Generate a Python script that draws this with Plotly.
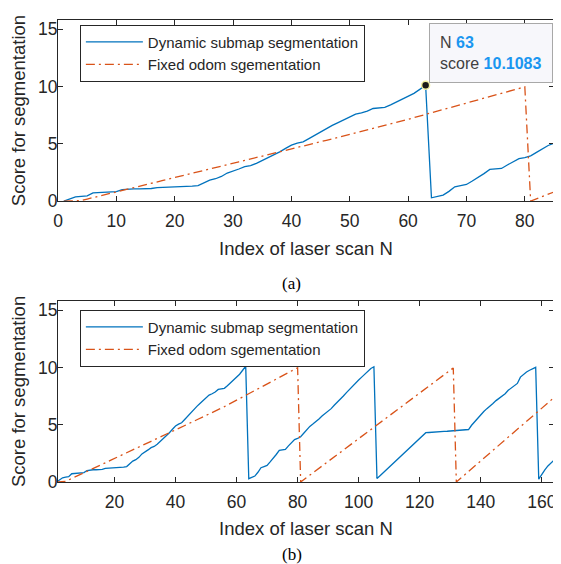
import plotly.graph_objects as go

# ---------------- data ----------------
scan_index = list(range(1, 165))

dynamic_score = [
    0.00, 0.20, 0.37, 0.42, 0.46, 0.72, 0.75, 0.78, 0.80, 0.82,
    1.00, 1.05, 1.07, 1.07, 1.08, 1.10, 1.18, 1.20, 1.20, 1.20,
    1.22, 1.28, 1.30, 1.35, 1.60, 1.82, 1.95, 2.15, 2.45, 2.60,
    2.80, 3.00, 3.10, 3.30, 3.55, 3.75, 4.05, 4.30, 4.60, 4.88,
    5.05, 5.17, 5.45, 5.75, 6.05, 6.35, 6.60, 6.85, 7.10, 7.35,
    7.58, 7.70, 7.85, 8.08, 8.12, 8.17, 8.40, 8.65, 8.90, 9.10,
    9.40, 9.75, 10.1083, 0.29, 0.40, 0.52, 0.85, 1.25, 1.35, 1.45,
    1.75, 2.05, 2.40, 2.76, 2.82, 2.85, 3.15, 3.45, 3.70, 3.80,
    3.95, 4.25, 4.55, 4.85, 5.05, 5.25, 5.50, 5.75, 5.95, 6.15,
    6.40, 6.70, 6.95, 7.25, 7.50, 7.80, 8.10, 8.40, 8.65, 8.90,
    9.15, 9.40, 9.65, 9.90, 10.05, 0.30, 0.55, 0.80, 1.05, 1.30,
    1.55, 1.80, 2.05, 2.30, 2.55, 2.80, 3.05, 3.30, 3.55, 3.80,
    4.05, 4.30, 4.32, 4.35, 4.37, 4.38, 4.40, 4.42, 4.43, 4.45,
    4.46, 4.48, 4.50, 4.52, 4.55, 4.58, 4.95, 5.25, 5.60, 5.90,
    6.15, 6.40, 6.60, 6.85, 7.10, 7.30, 7.50, 7.70, 8.00, 8.20,
    8.40, 8.60, 9.15, 9.40, 9.60, 9.75, 9.90, 10.00, 0.25, 0.70,
    1.05, 1.40, 1.65, 1.90,
]

fixed_score = [
    0.00, 0.00, 0.00, 0.05, 0.18, 0.30, 0.43, 0.55, 0.68, 0.80,
    0.93, 1.05, 1.18, 1.30, 1.43, 1.55, 1.68, 1.80, 1.93, 2.05,
    2.18, 2.30, 2.43, 2.55, 2.68, 2.80, 2.93, 3.05, 3.18, 3.30,
    3.43, 3.55, 3.68, 3.80, 3.93, 4.05, 4.18, 4.30, 4.43, 4.55,
    4.68, 4.80, 4.93, 5.05, 5.18, 5.30, 5.43, 5.55, 5.68, 5.80,
    5.93, 6.05, 6.18, 6.30, 6.43, 6.57, 6.71, 6.85, 6.99, 7.14,
    7.28, 7.42, 7.56, 7.70, 7.85, 7.99, 8.13, 8.27, 8.41, 8.56,
    8.70, 8.84, 8.98, 9.12, 9.27, 9.41, 9.55, 9.69, 9.83, 9.97,
    0.00, 0.20, 0.40, 0.60, 0.80, 1.00, 1.20, 1.40, 1.60, 1.80,
    2.00, 2.20, 2.40, 2.60, 2.80, 3.00, 3.20, 3.40, 3.60, 3.80,
    4.00, 4.20, 4.40, 4.60, 4.80, 5.00, 5.20, 5.40, 5.60, 5.80,
    6.00, 6.20, 6.40, 6.60, 6.80, 7.00, 7.20, 7.40, 7.60, 7.80,
    8.00, 8.20, 8.40, 8.60, 8.80, 9.00, 9.20, 9.40, 9.60, 9.80,
    9.95, 0.00, 0.23, 0.46, 0.69, 0.92, 1.15, 1.38, 1.61, 1.84,
    2.07, 2.30, 2.53, 2.76, 2.99, 3.22, 3.45, 3.68, 3.91, 4.14,
    4.37, 4.60, 4.83, 5.06, 5.29, 5.52, 5.75, 5.98, 6.21, 6.44,
    6.67, 6.90, 7.13, 7.36,
]

series_names = ["Dynamic submap segmentation", "Fixed odom sgementation"]
top_xticks = [0, 10, 20, 30, 40, 50, 60, 70, 80]
bottom_xticks = [20, 40, 60, 80, 100, 120, 140, 160]
yticks = [0, 5, 10, 15]
tip_n = 63
tip_score = 10.1083
captions = ["(a)", "(b)"]

# ---------------- style ----------------
BLUE = "#0072BD"
ORANGE = "#D95319"
INK = "#262626"
FONT = "Liberation Sans, Arial, sans-serif"

fig = go.Figure()

for xa, ya, leg in [("x", "y", "legend"), ("x2", "y2", "legend2")]:
    fig.add_trace(go.Scatter(
        x=scan_index, y=dynamic_score, mode="lines", name=series_names[0],
        line=dict(color=BLUE, width=1.3), xaxis=xa, yaxis=ya, legend=leg,
    ))
    fig.add_trace(go.Scatter(
        x=scan_index, y=fixed_score, mode="lines", name=series_names[1],
        line=dict(color=ORANGE, width=1.3, dash="9px,4px,2px,4px"),
        xaxis=xa, yaxis=ya, legend=leg,
    ))

# data tip marker
fig.add_trace(go.Scatter(
    x=[tip_n], y=[tip_score], mode="markers", showlegend=False,
    marker=dict(color="#1a1a1a", size=8, line=dict(color="#f2f0a0", width=1.5)),
    xaxis="x", yaxis="y",
))

axis_common = dict(
    showline=True, linecolor=INK, linewidth=1, mirror="ticks",
    ticks="inside", ticklen=5, tickcolor=INK, tickwidth=1,
    showgrid=False, zeroline=False,
    tickfont=dict(family=FONT, size=17.5, color=INK),
)
title_font = dict(family=FONT, size=18.5, color=INK)

fig.update_layout(
    width=553, height=556,
    margin=dict(l=50, r=4, t=12, b=82),
    paper_bgcolor="white", plot_bgcolor="white",
    xaxis=dict(domain=[0, 1], range=[0, 85], tickvals=top_xticks, anchor="y",
               ticklabelstandoff=4,
               title=dict(text="Index of laser scan N", font=title_font, standoff=11),
               **axis_common),
    yaxis=dict(domain=[0.608, 1], range=[0, 15.8], tickvals=yticks, anchor="x",
               ticklabelstandoff=-4,
               title=dict(text="Score for segmentation", font=title_font, standoff=8),
               **axis_common),
    xaxis2=dict(domain=[0, 1], range=[1.5, 164], tickvals=bottom_xticks, anchor="y2",
                ticklabelstandoff=4,
                title=dict(text="Index of laser scan N", font=title_font, standoff=11),
                **axis_common),
    yaxis2=dict(domain=[0, 0.392], range=[0, 15.8], tickvals=yticks, anchor="x2",
                ticklabelstandoff=-4,
                title=dict(text="Score for segmentation", font=title_font, standoff=8),
                **axis_common),
    legend=dict(x=0.0441, y=0.99, xanchor="left", yanchor="top",
                bgcolor="white", bordercolor=INK, borderwidth=1,
                font=dict(family=FONT, size=15, color=INK), itemwidth=57,
                tracegroupgap=0),
    legend2=dict(x=0.0441, y=0.373, xanchor="left", yanchor="top",
                 bgcolor="white", bordercolor=INK, borderwidth=1,
                 font=dict(family=FONT, size=15, color=INK), itemwidth=57,
                 tracegroupgap=0),
    showlegend=True,
)

# data tip box
fig.add_annotation(
    x=tip_n, y=tip_score, xref="x", yref="y",
    text=("N <b><span style='color:#1a96f0'>%d</span></b><br>"
          "score <b><span style='color:#1a96f0'>%.4f</span></b>") % (tip_n, tip_score),
    showarrow=False, xanchor="left", yanchor="bottom", align="left",
    xshift=3, yshift=2,
    font=dict(family=FONT, size=16, color="#404040"),
    bgcolor="#f7f7fb", bordercolor="#a8a8a8", borderwidth=1, borderpad=10,
)

# captions
for cap, ypos in zip(captions, [0.4307, -0.158]):
    fig.add_annotation(
        x=0.471, y=ypos, xref="paper", yref="paper", text=cap, showarrow=False,
        xanchor="center", yanchor="middle",
        font=dict(family="Liberation Serif, Times New Roman, serif", size=17, color="black"),
    )

fig.write_html("out.html")
